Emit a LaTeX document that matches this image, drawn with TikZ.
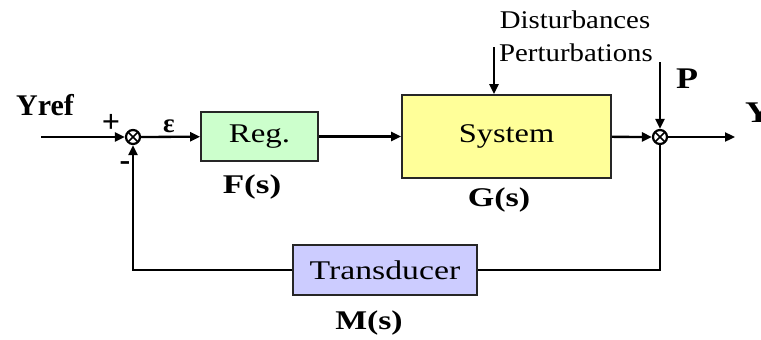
\documentclass[tikz,border=0pt]{standalone}
\usepackage{fontspec}
\usepackage{graphicx}
\setmainfont{Liberation Serif}
\usetikzlibrary{arrows.meta}
\definecolor{regfill}{RGB}{204,255,204}
\definecolor{sysfill}{RGB}{255,255,153}
\definecolor{trfill}{RGB}{204,204,255}
\newcommand\hwide[2]{\scalebox{#1}[1]{#2}}
\begin{document}
\begin{tikzpicture}[x=1pt,y=-1pt,
  conn/.style={line width=2.3pt},
  arr/.style={conn,-{Triangle[length=10pt,width=9pt]}},
  blk/.style={draw=black!85,line width=1.8pt,inner sep=0pt},
  sumnode/.style={circle,draw,line width=2.2pt,minimum size=14pt,inner sep=0pt,
    path picture={\draw[line width=1.6pt]
      (path picture bounding box.south west) -- (path picture bounding box.north east)
      (path picture bounding box.north west) -- (path picture bounding box.south east);}},
  bigbold/.style={inner sep=0pt,font=\fontsize{30}{32}\selectfont\bfseries},
  midbold/.style={inner sep=0pt,font=\fontsize{27}{29}\selectfont\bfseries},
  signbold/.style={inner sep=0pt,font=\fontsize{32}{34}\selectfont\bfseries},
  boxtext/.style={font=\fontsize{27}{29}\selectfont},
  smalltext/.style={inner sep=0pt,font=\fontsize{25.5}{27}\selectfont}]
\useasboundingbox (0,0) rectangle (761,340);
% blocks
\node[blk,fill=regfill,minimum width=117pt,minimum height=49pt,boxtext] (reg) at (259.5,136.5) {\hwide{1.22}{Reg.}};
\node[blk,fill=sysfill,minimum width=209pt,minimum height=83pt,boxtext] (sys) at (506.5,136.5) {\hwide{1.2}{System}};
\node[blk,fill=trfill,minimum width=184pt,minimum height=50pt,boxtext] (tr) at (385,270) {\hwide{1.25}{Transducer}};
% summing junctions
\node[sumnode] (s1) at (133,137) {};
\node[sumnode] (s2) at (660,137) {};
% free ends
\coordinate (in) at (41,137);
\coordinate (out) at (735,137);
\coordinate (dtop) at (494,47);
\coordinate (ptop) at (660,62);
% connectors
\draw[arr] (in) -- (s1);
\draw[arr] (s1) -- (reg);
\draw[arr] (reg) -- (sys);
\draw[arr] (sys) -- (s2);
\draw[arr] (s2) -- (out);
\draw[arr] (dtop) -- (sys.north -| dtop);
\draw[arr] (ptop) -- (s2);
\draw[conn] (s2) |- (tr.east);
\draw[arr] (tr.west) -| (s1);
% labels
\node[bigbold] (yref) at (45,105) {Yref};
\node[signbold] (plus) at (111,123) {+};
\node[signbold] (minus) at (125,166) {-};
\node[midbold] (eps) at (169,126) {ε};
\node[midbold] (fs) at (252,187) {\hwide{1.3}{F(s)}};
\node[midbold] (gs) at (499,200) {\hwide{1.26}{G(s)}};
\node[midbold] (ms) at (369,323) {\hwide{1.25}{M(s)}};
\node[smalltext] (dist) at (575,20) {\hwide{1.13}{Disturbances}};
\node[smalltext] (pert) at (576,53) {\hwide{1.13}{Perturbations}};
\node[bigbold] (plab) at (687,79) {\hwide{1.2}{P}};
\node[bigbold,anchor=west] (ylab) at (745,113) {\hwide{1.2}{Y}};
\end{tikzpicture}
\end{document}
